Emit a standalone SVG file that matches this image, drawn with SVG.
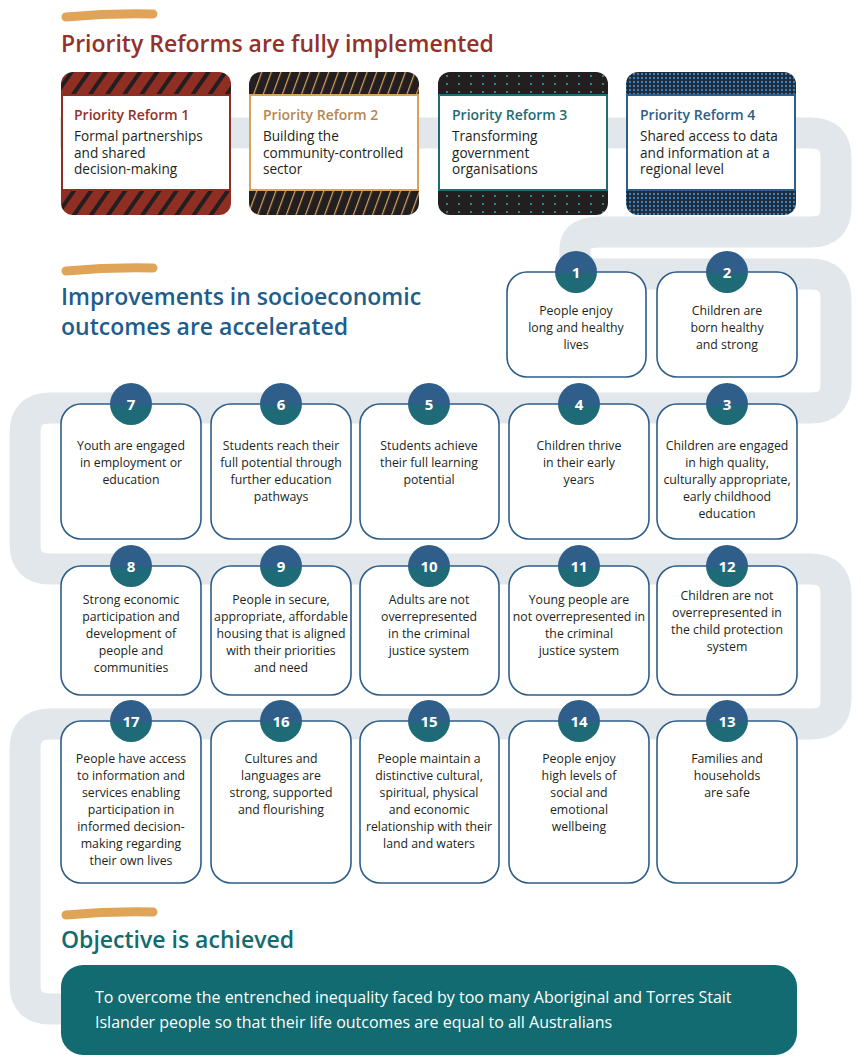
<svg xmlns="http://www.w3.org/2000/svg" width="862" height="1062" viewBox="0 0 862 1062">
<defs>
<style>
.h{font-family:"Open Sans","Noto Sans",sans-serif;font-size:23px;font-weight:600}
.rt{font-family:"Open Sans","Noto Sans",sans-serif;font-size:14px;font-weight:600}
.rb{font-family:"Open Sans","Noto Sans",sans-serif;font-size:13.6px;fill:#231f20}
.ct{font-family:"Open Sans","Noto Sans",sans-serif;font-size:12.3px;fill:#231f20;text-anchor:middle}
.card{fill:#fff;stroke:#2e5d89;stroke-width:1.6}
.num{font-family:"Open Sans","Noto Sans",sans-serif;font-size:15px;font-weight:700;fill:#fff;text-anchor:middle}
.brush{fill:none;stroke:#e0a458;stroke-width:9;stroke-linecap:round}
</style>
<linearGradient id="bg" x1="0" y1="0" x2="0" y2="1">
<stop offset="0.5" stop-color="#2f5e8a"/><stop offset="0.56" stop-color="#1f6a78"/><stop offset="1" stop-color="#1e6b76"/>
</linearGradient>
<pattern id="p1" width="14" height="14" patternUnits="userSpaceOnUse" patternTransform="rotate(35)">
<rect width="14" height="14" fill="#8f2e22"/><rect width="4" height="14" fill="#231f20"/>
</pattern>
<pattern id="p2" width="9" height="9" patternUnits="userSpaceOnUse" patternTransform="rotate(20)">
<rect width="9" height="9" fill="#231f20"/><rect width="1.2" height="9" fill="#d9a25a"/>
</pattern>
<pattern id="p3" width="12" height="8" patternUnits="userSpaceOnUse">
<rect width="12" height="8" fill="#231f20"/><circle cx="3" cy="4" r="1.1" fill="#2aa39a"/>
</pattern>
<pattern id="p4" width="4" height="4" patternUnits="userSpaceOnUse">
<rect width="4" height="4" fill="#1d2a3a"/><circle cx="2" cy="2" r="1.2" fill="#3f7fb5"/>
</pattern>
</defs>
<rect width="862" height="1062" fill="#fff"/>
<g id="connectors">
<path d="M60 133 H811 Q836 133 836 158 V207 Q836 232 811 232 H600 Q575 232 575 249 V257 Q575 274 600 274 H811 Q836 274 836 299 V383 Q836 408 811 408 H50 Q25 408 25 433 V544 Q25 569 50 569 H811 Q836 569 836 594 V699 Q836 724 811 724 H50 Q25 724 25 749 V984 Q25 1009 50 1009 H80" fill="none" stroke="#e1e7eb" stroke-width="31"/>
</g>
<g id="headings">
<path class="brush" d="M66 17 Q110 13 153 14"/>
<text class="h" x="61" y="52" fill="#93312a">Priority Reforms are fully implemented</text>
<path class="brush" d="M66 271 Q110 267 153 268"/>
<text class="h" x="61" y="305" fill="#1f5d8a">Improvements in socioeconomic</text>
<text class="h" x="61" y="335" fill="#1f5d8a">outcomes are accelerated</text>
<path class="brush" d="M66 915 Q110 911 153 912"/>
<text class="h" x="61" y="948" fill="#136b70">Objective is achieved</text>
</g>
<g id="reform1">
<rect x="61" y="72" width="170" height="143" rx="12" fill="url(#p1)"/>
<rect x="62" y="95" width="168" height="95" fill="#fff" stroke="#8f2e22" stroke-width="2"/>
<text class="rt" x="74" y="120" fill="#93312a">Priority Reform 1</text>
<text class="rb" x="74" y="141">Formal partnerships</text><text class="rb" x="74" y="157.5">and shared</text><text class="rb" x="74" y="174">decision-making</text>
</g>
<g id="reform2">
<rect x="249" y="72" width="170" height="143" rx="12" fill="url(#p2)"/>
<rect x="250" y="95" width="168" height="95" fill="#fff" stroke="#d9a25a" stroke-width="2"/>
<text class="rt" x="263" y="120" fill="#b5874f">Priority Reform 2</text>
<text class="rb" x="263" y="141">Building the</text><text class="rb" x="263" y="157.5">community-controlled</text><text class="rb" x="263" y="174">sector</text>
</g>
<g id="reform3">
<rect x="438" y="72" width="170" height="143" rx="12" fill="url(#p3)"/>
<rect x="439" y="95" width="168" height="95" fill="#fff" stroke="#1f6b72" stroke-width="2"/>
<text class="rt" x="452" y="120" fill="#1f6b72">Priority Reform 3</text>
<text class="rb" x="452" y="141">Transforming</text><text class="rb" x="452" y="157.5">government</text><text class="rb" x="452" y="174">organisations</text>
</g>
<g id="reform4">
<rect x="626" y="72" width="170" height="143" rx="12" fill="url(#p4)"/>
<rect x="627" y="95" width="168" height="95" fill="#fff" stroke="#2e5d89" stroke-width="2"/>
<text class="rt" x="640" y="120" fill="#2e5d89">Priority Reform 4</text>
<text class="rb" x="640" y="141">Shared access to data</text><text class="rb" x="640" y="157.5">and information at a</text><text class="rb" x="640" y="174">regional level</text>
</g>
<g id="t1"><rect class="card" x="507" y="272" width="139" height="105" rx="20"/><circle cx="576" cy="272" r="21" fill="url(#bg)"/><text class="num" x="576" y="278">1</text>
<text class="ct" x="576" y="315">People enjoy</text><text class="ct" x="576" y="332">long and healthy</text><text class="ct" x="576" y="349">lives</text></g>
<g id="t2"><rect class="card" x="657" y="272" width="140" height="105" rx="20"/><circle cx="727" cy="272" r="21" fill="url(#bg)"/><text class="num" x="727" y="278">2</text>
<text class="ct" x="727" y="315">Children are</text><text class="ct" x="727" y="332">born healthy</text><text class="ct" x="727" y="349">and strong</text></g>

<g id="t7"><rect class="card" x="61" y="404" width="140" height="135" rx="20"/><circle cx="131" cy="404" r="21" fill="url(#bg)"/><text class="num" x="131" y="410">7</text>
<text class="ct" x="131" y="450">Youth are engaged</text><text class="ct" x="131" y="467">in employment or</text><text class="ct" x="131" y="484">education</text></g>
<g id="t6"><rect class="card" x="211" y="404" width="140" height="135" rx="20"/><circle cx="281" cy="404" r="21" fill="url(#bg)"/><text class="num" x="281" y="410">6</text>
<text class="ct" x="281" y="450">Students reach their</text><text class="ct" x="281" y="467">full potential through</text><text class="ct" x="281" y="484">further education</text><text class="ct" x="281" y="501">pathways</text></g>
<g id="t5"><rect class="card" x="360" y="404" width="139" height="135" rx="20"/><circle cx="429" cy="404" r="21" fill="url(#bg)"/><text class="num" x="429" y="410">5</text>
<text class="ct" x="429" y="450">Students achieve</text><text class="ct" x="429" y="467">their full learning</text><text class="ct" x="429" y="484">potential</text></g>
<g id="t4"><rect class="card" x="509" y="404" width="140" height="135" rx="20"/><circle cx="579" cy="404" r="21" fill="url(#bg)"/><text class="num" x="579" y="410">4</text>
<text class="ct" x="579" y="450">Children thrive</text><text class="ct" x="579" y="467">in their early</text><text class="ct" x="579" y="484">years</text></g>
<g id="t3"><rect class="card" x="657" y="404" width="140" height="135" rx="20"/><circle cx="727" cy="404" r="21" fill="url(#bg)"/><text class="num" x="727" y="410">3</text>
<text class="ct" x="727" y="450">Children are engaged</text><text class="ct" x="727" y="467">in high quality,</text><text class="ct" x="727" y="484">culturally appropriate,</text><text class="ct" x="727" y="501">early childhood</text><text class="ct" x="727" y="518">education</text></g>

<g id="t8"><rect class="card" x="61" y="566" width="140" height="129" rx="20"/><circle cx="131" cy="566" r="21" fill="url(#bg)"/><text class="num" x="131" y="572">8</text>
<text class="ct" x="131" y="604">Strong economic</text><text class="ct" x="131" y="621">participation and</text><text class="ct" x="131" y="638">development of</text><text class="ct" x="131" y="655">people and</text><text class="ct" x="131" y="672">communities</text></g>
<g id="t9"><rect class="card" x="211" y="566" width="140" height="129" rx="20"/><circle cx="281" cy="566" r="21" fill="url(#bg)"/><text class="num" x="281" y="572">9</text>
<text class="ct" x="281" y="604">People in secure,</text><text class="ct" x="281" y="621">appropriate, affordable</text><text class="ct" x="281" y="638">housing that is aligned</text><text class="ct" x="281" y="655">with their priorities</text><text class="ct" x="281" y="672">and need</text></g>
<g id="t10"><rect class="card" x="360" y="566" width="139" height="129" rx="20"/><circle cx="429" cy="566" r="21" fill="url(#bg)"/><text class="num" x="429" y="572">10</text>
<text class="ct" x="429" y="604">Adults are not</text><text class="ct" x="429" y="621">overrepresented</text><text class="ct" x="429" y="638">in the criminal</text><text class="ct" x="429" y="655">justice system</text></g>
<g id="t11"><rect class="card" x="509" y="566" width="140" height="129" rx="20"/><circle cx="579" cy="566" r="21" fill="url(#bg)"/><text class="num" x="579" y="572">11</text>
<text class="ct" x="579" y="604">Young people are</text><text class="ct" x="579" y="621">not overrepresented in</text><text class="ct" x="579" y="638">the criminal</text><text class="ct" x="579" y="655">justice system</text></g>
<g id="t12"><rect class="card" x="657" y="566" width="140" height="129" rx="20"/><circle cx="727" cy="566" r="21" fill="url(#bg)"/><text class="num" x="727" y="572">12</text>
<text class="ct" x="727" y="600">Children are not</text><text class="ct" x="727" y="617">overrepresented in</text><text class="ct" x="727" y="634">the child protection</text><text class="ct" x="727" y="651">system</text></g>

<g id="t17"><rect class="card" x="61" y="721" width="140" height="162" rx="20"/><circle cx="131" cy="721" r="21" fill="url(#bg)"/><text class="num" x="131" y="727">17</text>
<text class="ct" x="131" y="763">People have access</text><text class="ct" x="131" y="780">to information and</text><text class="ct" x="131" y="797">services enabling</text><text class="ct" x="131" y="814">participation in</text><text class="ct" x="131" y="831">informed decision-</text><text class="ct" x="131" y="848">making regarding</text><text class="ct" x="131" y="865">their own lives</text></g>
<g id="t16"><rect class="card" x="211" y="721" width="140" height="162" rx="20"/><circle cx="281" cy="721" r="21" fill="url(#bg)"/><text class="num" x="281" y="727">16</text>
<text class="ct" x="281" y="763">Cultures and</text><text class="ct" x="281" y="780">languages are</text><text class="ct" x="281" y="797">strong, supported</text><text class="ct" x="281" y="814">and flourishing</text></g>
<g id="t15"><rect class="card" x="360" y="721" width="139" height="162" rx="20"/><circle cx="429" cy="721" r="21" fill="url(#bg)"/><text class="num" x="429" y="727">15</text>
<text class="ct" x="429" y="763">People maintain a</text><text class="ct" x="429" y="780">distinctive cultural,</text><text class="ct" x="429" y="797">spiritual, physical</text><text class="ct" x="429" y="814">and economic</text><text class="ct" x="429" y="831">relationship with their</text><text class="ct" x="429" y="848">land and waters</text></g>
<g id="t14"><rect class="card" x="509" y="721" width="140" height="162" rx="20"/><circle cx="579" cy="721" r="21" fill="url(#bg)"/><text class="num" x="579" y="727">14</text>
<text class="ct" x="579" y="763">People enjoy</text><text class="ct" x="579" y="780">high levels of</text><text class="ct" x="579" y="797">social and</text><text class="ct" x="579" y="814">emotional</text><text class="ct" x="579" y="831">wellbeing</text></g>
<g id="t13"><rect class="card" x="657" y="721" width="140" height="162" rx="20"/><circle cx="727" cy="721" r="21" fill="url(#bg)"/><text class="num" x="727" y="727">13</text>
<text class="ct" x="727" y="763">Families and</text><text class="ct" x="727" y="780">households</text><text class="ct" x="727" y="797">are safe</text></g>

<g id="objective">
<rect x="61" y="965" width="736" height="90" rx="22" fill="#116b70"/>
<text x="95" y="1003" font-family="Open Sans, Noto Sans, sans-serif" font-size="16" fill="#fff">To overcome the entrenched inequality faced by too many Aboriginal and Torres Stait</text>
<text x="95" y="1028" font-family="Open Sans, Noto Sans, sans-serif" font-size="16" fill="#fff">Islander people so that their life outcomes are equal to all Australians</text>
</g>
</svg>
